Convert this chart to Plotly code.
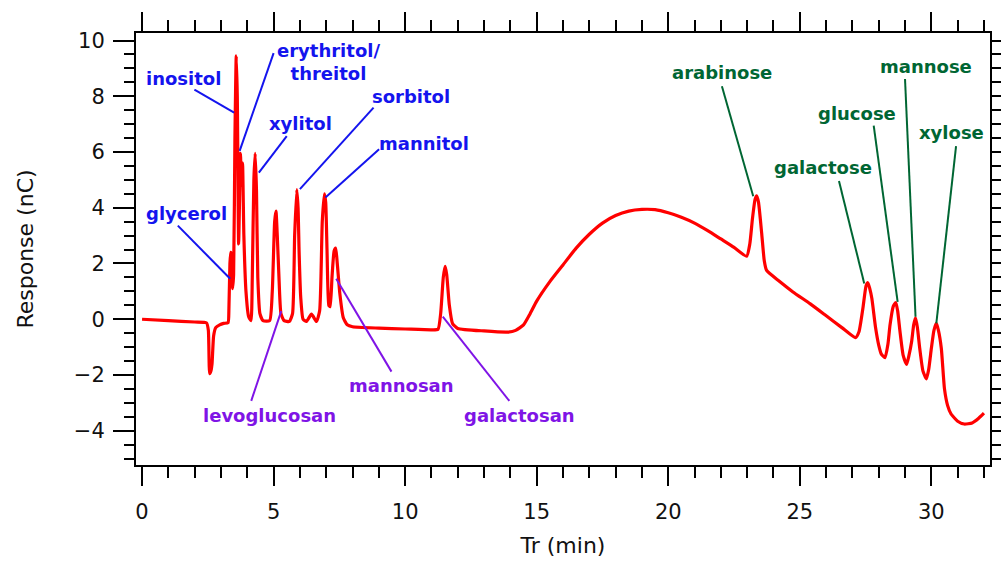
import plotly.graph_objects as go

# Chromatogram trace (retention time in min, response in nC)
tr = [0.0, 1.0, 2.0, 2.45, 2.52, 2.57, 2.62, 2.66, 2.72, 2.8, 2.95, 3.1, 3.27,
      3.30, 3.34, 3.37, 3.40, 3.44, 3.48, 3.53, 3.58, 3.62, 3.67, 3.71, 3.74, 3.78, 3.82, 3.87, 3.95, 4.05, 4.14,
      4.19, 4.25, 4.30, 4.35, 4.40, 4.48, 4.6, 4.85, 4.95, 5.04, 5.09, 5.14, 5.20, 5.28, 5.40, 5.6,
      5.72, 5.80, 5.88, 5.93, 5.97, 6.03, 6.12, 6.25, 6.44, 6.63, 6.75, 6.85, 6.93, 6.98, 7.03, 7.10, 7.15,
      7.22, 7.30, 7.36, 7.42, 7.52, 7.65, 7.8, 8.0, 9.0, 10.0, 11.0, 11.25, 11.35, 11.45, 11.52, 11.58,
      11.68, 11.8, 12.0, 13.0, 13.9, 14.2, 14.5, 14.75, 15.0, 15.5, 16.0, 16.5, 17.0, 17.5, 18.0, 18.5,
      19.0, 19.5, 20.0, 20.5, 21.0, 21.5, 22.0, 22.5, 22.98, 23.1, 23.2, 23.3, 23.36, 23.43, 23.55, 23.65,
      23.74, 24.2, 24.74, 25.4, 25.98, 26.6, 27.12, 27.25, 27.4, 27.52, 27.59, 27.66, 27.74, 27.88, 28.0,
      28.1, 28.24, 28.35, 28.43, 28.55, 28.65, 28.72, 28.81, 28.93, 29.06, 29.15, 29.25, 29.33, 29.4,
      29.47, 29.56, 29.68, 29.81, 29.9, 30.0, 30.1, 30.19, 30.27, 30.38, 30.5, 30.62, 30.75, 31.0, 31.25,
      31.55, 31.8, 32.0]
response = [0.0, -0.05, -0.1, -0.13, -0.4, -1.95, -1.85, -1.6, -0.6, -0.3, -0.2, -0.15, -0.12,
            0.3, 2.0, 2.4, 2.3, 1.1, 1.6, 6.5, 9.45, 8.0, 2.7, 4.5, 5.95, 4.8, 5.6, 3.0, 1.0, 0.1, -0.05,
            1.5, 5.0, 5.95, 4.6, 1.5, 0.2, -0.05, -0.05, 1.0, 3.5, 3.88, 3.0, 1.6, 0.2, -0.05, -0.08,
            0.2, 3.0, 4.65, 4.0, 2.4, 0.8, 0.0, -0.08, 0.18, -0.08, 0.3, 3.5, 4.5, 4.2, 2.5, 0.5, 0.45,
            1.5, 2.45, 2.55, 2.0, 0.9, 0.05, -0.2, -0.27, -0.32, -0.35, -0.38, -0.36, 0.2, 1.5, 1.9, 1.6,
            0.5, -0.15, -0.33, -0.42, -0.46, -0.4, -0.2, 0.2, 0.65, 1.35, 1.95, 2.55, 3.05, 3.45, 3.72, 3.88,
            3.94, 3.93, 3.82, 3.66, 3.45, 3.18, 2.88, 2.58, 2.26, 2.7, 3.6, 4.3, 4.43, 4.2, 3.1, 2.1,
            1.75, 1.38, 0.98, 0.55, 0.14, -0.3, -0.66, -0.45, 0.4, 1.2, 1.31, 1.1, 0.74, -0.3, -0.93,
            -1.25, -1.38, -0.9, -0.21, 0.45, 0.6, 0.3, -0.45, -1.3, -1.62, -1.3, -0.81, -0.2, 0.05,
            -0.3, -1.05, -1.85, -2.14, -1.8, -1.05, -0.4, -0.15, -0.4, -1.05, -2.5, -3.1, -3.4, -3.66, -3.76,
            -3.72, -3.55, -3.37]

# Peak labels
labels = ["inositol", "erythritol/<br>threitol", "xylitol", "sorbitol", "mannitol", "glycerol",
          "levoglucosan", "mannosan", "galactosan",
          "arabinose", "galactose", "glucose", "mannose", "xylose"]
label_group = ["polyol"] * 6 + ["anhydro"] * 3 + ["sugar"] * 5
label_x = [1.56, 7.07, 6.03, 10.23, 10.73, 1.69, 4.84, 9.88, 14.35, 22.06, 25.9, 27.19, 29.81, 30.76]
label_y = [8.63, 9.23, 7.03, 7.98, 6.31, 3.81, -3.45, -2.38, -3.44, 8.84, 5.44, 7.37, 9.07, 6.69]
leader_x0 = [1.99, 5.0, 5.5, 8.80, 9.01, 1.36, 4.15, 9.48, 13.96, 22.04, 26.49, 27.81, 29.0, 30.94]
leader_y0 = [8.24, 9.55, 6.57, 7.59, 6.10, 3.36, -2.93, -1.88, -2.93, 8.36, 4.96, 6.95, 8.62, 6.21]
leader_x1 = [3.50, 3.71, 4.44, 6.0, 6.97, 3.35, 5.29, 7.38, 11.43, 23.23, 27.45, 28.72, 29.4, 30.19]
leader_y1 = [7.41, 6.04, 5.26, 4.67, 4.37, 1.45, 0.29, 1.45, 0.09, 4.41, 1.28, 0.62, 0.09, -0.15]
group_color = {"polyol": "#1414EE", "anhydro": "#7F14E6", "sugar": "#006633"}

x_range = [-0.23, 32.23]
y_range = [-5.23, 10.27]

fig = go.Figure()
fig.add_trace(go.Scatter(x=tr, y=response, mode="lines",
                         line=dict(color="#FF0000", width=3.2, shape="spline", smoothing=0.5),
                         showlegend=False, hoverinfo="skip"))
fig.add_trace(go.Scatter(x=[None], y=[None], xaxis="x2", yaxis="y2", showlegend=False, hoverinfo="skip"))

for i, lab in enumerate(labels):
    col = group_color[label_group[i]]
    fig.add_shape(type="line", xref="x", yref="y", x0=leader_x0[i], y0=leader_y0[i],
                  x1=leader_x1[i], y1=leader_y1[i], line=dict(color=col, width=2))
    fig.add_annotation(x=label_x[i], y=label_y[i], xref="x", yref="y", text=lab, showarrow=False,
                       xanchor="center", yanchor="middle",
                       font=dict(family="DejaVu Sans", size=18, color=col, weight="bold"))

tickfont = dict(family="DejaVu Sans", size=21, color="#111111")
fig.update_layout(
    width=1008, height=563,
    margin=dict(l=136, r=9, t=33, b=96),
    paper_bgcolor="white", plot_bgcolor="white",
    xaxis=dict(range=x_range, tick0=0, dtick=5, ticks="outside", ticklen=19, tickwidth=2,
               tickcolor="black", showline=True, linewidth=2, linecolor="black", showgrid=False,
               zeroline=False, tickfont=tickfont, ticklabelstandoff=8,
               minor=dict(dtick=1, tick0=0, ticks="outside", ticklen=11, tickwidth=2, tickcolor="black",
                          showgrid=False),
               title=dict(text="Tr (min)", font=dict(family="DejaVu Sans", size=22, color="#111111"),
                          standoff=14)),
    yaxis=dict(range=y_range, tick0=0, dtick=2, ticks="outside", ticklen=21, tickwidth=2,
               tickcolor="black", showline=True, linewidth=2, linecolor="black", showgrid=False,
               zeroline=False, tickfont=tickfont, ticklabelstandoff=4,
               minor=dict(dtick=0.5, tick0=0, ticks="outside", ticklen=10, tickwidth=2, tickcolor="black",
                          showgrid=False),
               title=dict(text="Response (nC)", font=dict(family="DejaVu Sans", size=22, color="#111111"),
                          standoff=34)),
    xaxis2=dict(range=x_range, overlaying="x", side="top", anchor="y", tick0=0, dtick=5,
                ticks="outside", ticklen=19, tickwidth=2, tickcolor="black", showticklabels=False,
                showline=True, linewidth=2, linecolor="black", showgrid=False, zeroline=False,
                minor=dict(dtick=1, tick0=0, ticks="outside", ticklen=11, tickwidth=2, tickcolor="black",
                           showgrid=False)),
    yaxis2=dict(range=y_range, overlaying="y", side="right", anchor="x", tick0=0, dtick=0.5,
                ticks="outside", ticklen=9, tickwidth=2, tickcolor="black", showticklabels=False,
                showline=True, linewidth=2, linecolor="black", showgrid=False, zeroline=False),
)

fig.write_html("out.html")
